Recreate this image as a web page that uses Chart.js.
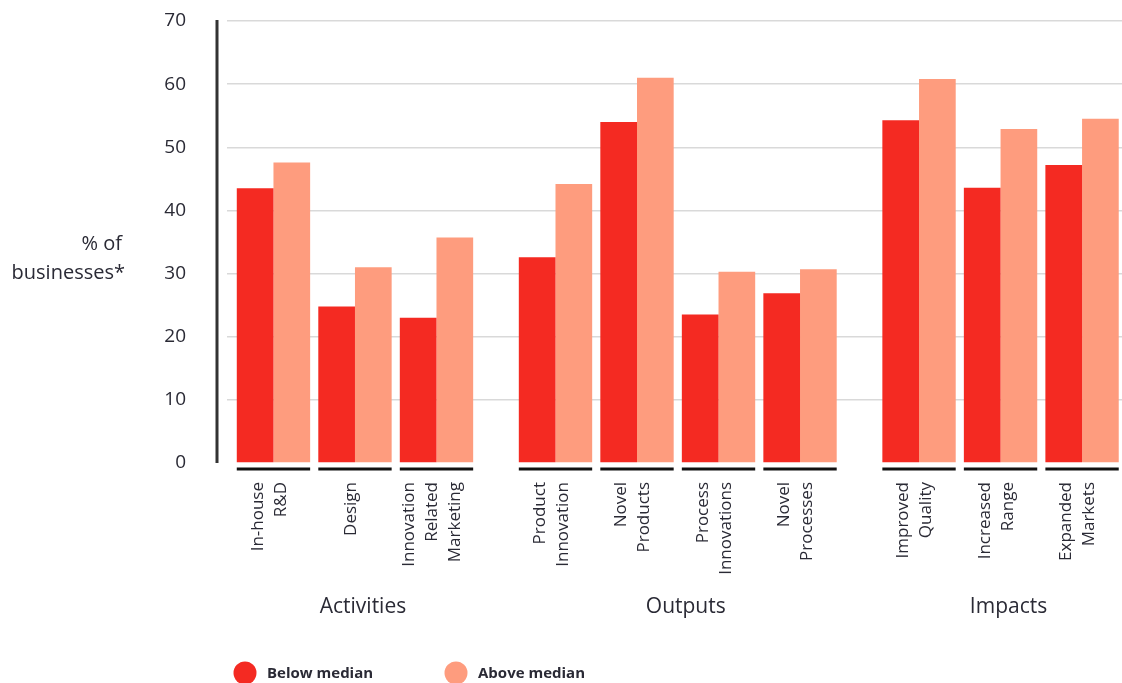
<!DOCTYPE html>
<html>
<head>
<meta charset="utf-8">
<script src="https://cdn.jsdelivr.net/npm/chart.js@4.4.0/dist/chart.umd.min.js"></script>
<style>
  html, body { margin: 0; padding: 0; background: #fff; }
  #wrap { width: 1122px; height: 683px; position: relative; }
</style>
</head>
<body>
<div id="wrap"><canvas id="chart"></canvas></div>
<script>
var groups = ['Activities', 'Outputs', 'Impacts'];
var groupSizes = [3, 4, 3];
var categories = [
  ['In-house', 'R&D'],
  ['Design'],
  ['Innovation', 'Related', 'Marketing'],
  ['Product', 'Innovation'],
  ['Novel', 'Products'],
  ['Process', 'Innovations'],
  ['Novel', 'Processes'],
  ['Improved', 'Quality'],
  ['Increased', 'Range'],
  ['Expanded', 'Markets']
];
var belowMedian = [43.5, 24.8, 23.0, 32.6, 54.0, 23.5, 26.9, 54.3, 43.6, 47.2];
var aboveMedian = [47.6, 31.0, 35.7, 44.2, 61.0, 30.3, 30.7, 60.8, 52.9, 54.5];
var seriesNames = ['Below median', 'Above median'];
var yAxisTitle = ['% of', 'businesses*'];

var RED = '#f42a22';
var SALMON = '#fe9c7e';
var TEXT = '#2a2a35';
var FONT = "'Open Sans', sans-serif";

// x position of each category: index plus an extra gap between groups
var GROUP_GAP = 0.46;
var xPos = [];
groupSizes.forEach(function(n, g) {
  for (var i = 0; i < n; i++) xPos.push(xPos.length + g * GROUP_GAP);
});

function toPoints(values) {
  return values.map(function(v, i) { return { x: xPos[i], y: v }; });
}

var decorations = {
  id: 'decorations',
  afterDraw: function(chart) {
    var ctx = chart.ctx;
    var area = chart.chartArea;
    var xs = chart.scales.x;
    var red = chart.getDatasetMeta(0).data;
    var sal = chart.getDatasetMeta(1).data;

    ctx.save();

    // y axis line, set off from the plot
    ctx.strokeStyle = '#333';
    ctx.lineWidth = 3;
    ctx.beginPath();
    ctx.moveTo(area.left - 10, area.top - 1);
    ctx.lineTo(area.left - 10, area.bottom);
    ctx.stroke();

    // underline under each category + rotated labels
    ctx.fillStyle = TEXT;
    ctx.font = '17px ' + FONT;
    ctx.textAlign = 'right';
    ctx.textBaseline = 'middle';
    categories.forEach(function(lines, i) {
      var l = red[i].x - red[i].width / 2;
      var r = sal[i].x + sal[i].width / 2;
      ctx.strokeStyle = '#111';
      ctx.lineWidth = 3;
      ctx.beginPath();
      ctx.moveTo(l, area.bottom + 6);
      ctx.lineTo(r, area.bottom + 6);
      ctx.stroke();

      var cx = xs.getPixelForValue(xPos[i]) - 4;
      ctx.save();
      ctx.translate(cx, area.bottom + 19);
      ctx.rotate(-Math.PI / 2);
      lines.forEach(function(t, j) {
        ctx.fillText(t, 0, (j - (lines.length - 1) / 2) * 23);
      });
      ctx.restore();
    });

    // group names
    ctx.font = '21px ' + FONT;
    ctx.textAlign = 'center';
    var start = 0;
    groups.forEach(function(name, g) {
      var end = start + groupSizes[g] - 1;
      var cx = (xs.getPixelForValue(xPos[start]) + xs.getPixelForValue(xPos[end])) / 2 + 8;
      ctx.fillText(name, cx, area.bottom + 144);
      start = end + 1;
    });

    // y axis title
    ctx.font = '20px ' + FONT;
    ctx.textAlign = 'right';
    ctx.fillText(yAxisTitle[0], 122, 244);
    ctx.fillText(yAxisTitle[1], 125, 273);

    // legend
    var colors = [RED, SALMON];
    var lx = [245, 456];
    ctx.font = 'bold 15px ' + FONT;
    ctx.textAlign = 'left';
    seriesNames.forEach(function(name, k) {
      ctx.fillStyle = colors[k];
      ctx.beginPath();
      ctx.arc(lx[k], 673, 11.5, 0, Math.PI * 2);
      ctx.fill();
      ctx.fillStyle = TEXT;
      ctx.fillText(name, lx[k] + 22, 674);
    });

    ctx.restore();
  }
};

var ctx = document.getElementById('chart').getContext('2d');
new Chart(ctx, {
  type: 'bar',
  data: {
    datasets: [{
      label: seriesNames[0],
      data: toPoints(belowMedian),
      backgroundColor: RED
    }, {
      label: seriesNames[1],
      data: toPoints(aboveMedian),
      backgroundColor: SALMON
    }]
  },
  options: {
    responsive: true,
    maintainAspectRatio: false,
    animation: false,
    layout: { padding: { top: 21, left: 0, right: 0, bottom: 0 } },
    datasets: { bar: { categoryPercentage: 0.9, barPercentage: 1.0 } },
    plugins: {
      legend: { display: false },
      tooltip: { enabled: false }
    },
    scales: {
      x: {
        type: 'linear',
        offset: false,
        min: xPos[0] - 0.57,
        max: xPos[xPos.length - 1] + 0.49,
        grid: { display: false },
        border: { display: false },
        ticks: { display: false },
        afterBuildTicks: function(scale) {
          scale.ticks = xPos.map(function(v) { return { value: v }; });
        },
        afterFit: function(scale) { scale.height = 220; }
      },
      y: {
        min: 0,
        max: 70,
        ticks: {
          stepSize: 10,
          padding: 41,
          color: TEXT,
          font: { family: FONT, size: 19 }
        },
        grid: {
          drawTicks: false,
          lineWidth: 1.5,
          color: function(c) { return c.tick && c.tick.value === 0 ? 'rgba(0,0,0,0)' : '#d9d9d9'; }
        },
        border: { display: false },
        afterFit: function(scale) {
          scale.width = 227;
          // tick padding is horizontal here, don't let it push the plot down
          scale.paddingTop = 0;
          scale.paddingBottom = 0;
        }
      }
    }
  },
  plugins: [decorations]
});
</script>
</body>
</html>
